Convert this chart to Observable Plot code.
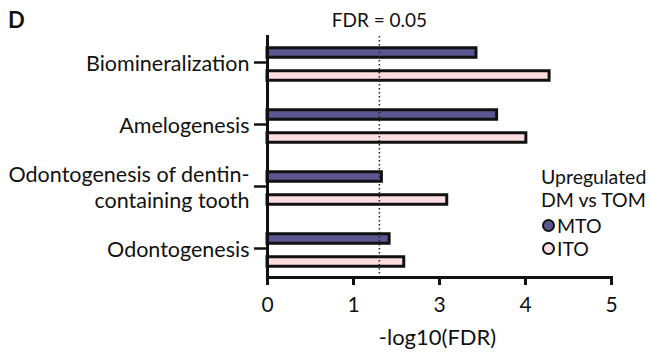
<!DOCTYPE html>
<html><head><meta charset="utf-8">
<script src="https://cdn.jsdelivr.net/npm/d3@7"></script>
<script src="https://cdn.jsdelivr.net/npm/@observablehq/plot@0.6"></script>
<style>
html,body{margin:0;padding:0;background:#fff;}
body{font-family:Lato,sans-serif;color:#111;}
#wrap{position:relative;width:650px;height:354px;}
#panel{position:absolute;left:8px;top:7px;font-weight:bold;font-size:22px;line-height:26px;}
#legend{position:absolute;left:541px;top:165px;font-size:19.5px;line-height:23px;}
#legend .item{display:flex;align-items:center;height:23px;line-height:23px;}
#legend .item.first{margin-top:3px;}
#legend .sw{display:inline-block;width:9px;height:9px;border:2px solid #111;border-radius:50%;margin-left:1px;margin-right:2px;}
</style>
</head><body>
<div id="wrap">
  <div id="chart"></div>
  <div id="panel">D</div>
  <div id="legend"></div>
</div>
<script>
const categories = ["Biomineralization", "Amelogenesis", "Odontogenesis of dentin-containing tooth", "Odontogenesis"];
const categoryLabels = ["Biomineralization", "Amelogenesis", "Odontogenesis of dentin-\ncontaining tooth", "Odontogenesis"];
const seriesNames = ["MTO", "ITO"];
const mtoValues = [2.43, 2.67, 1.33, 1.42];
const itoValues = [3.28, 3.01, 2.09, 1.59];
const seriesColors = ["#5e5690", "#fedde1"];
const xTickValues = [0, 1, 2, 3, 4];
const xTickLabels = ["0", "1", "3", "4", "5"];
const fdrThreshold = 1.301;
const fdrLabel = "FDR = 0.05";
const xLabel = "-log10(FDR)";
const legendTitle = ["Upregulated", "DM vs TOM"];

const mtoRows = categories.map((c, i) => ({category: c, series: seriesNames[0], value: mtoValues[i]}));
const itoRows = categories.map((c, i) => ({category: c, series: seriesNames[1], value: itoValues[i]}));

const chart = Plot.plot({
  width: 650,
  height: 354,
  marginLeft: 267,
  marginRight: 39,
  marginTop: 36,
  marginBottom: 77,
  style: {fontFamily: "Lato, sans-serif", fontSize: "21px", color: "#111", background: "#fff", overflow: "visible"},
  x: {domain: [0, 4]},
  y: {type: "band", domain: categories, range: [31.75, 281.75], padding: 0},
  marks: [
    Plot.barX(mtoRows, {x: "value", y: "category", fill: seriesColors[0], stroke: "#111", strokeWidth: 3, insetTop: 14.75, insetBottom: 37.75}),
    Plot.barX(itoRows, {x: "value", y: "category", fill: seriesColors[1], stroke: "#111", strokeWidth: 3, insetTop: 37.75, insetBottom: 14.75}),
    Plot.ruleX([fdrThreshold], {stroke: "#222", strokeWidth: 1.5, strokeDasharray: "1.5,2.5"}),
    Plot.text([fdrThreshold], {x: d => d, text: () => fdrLabel, frameAnchor: "top", lineAnchor: "middle", dy: -16, fontSize: 19, fill: "#111"}),
    Plot.frame({anchor: "left", stroke: "#111", strokeWidth: 3}),
    Plot.frame({anchor: "bottom", stroke: "#111", strokeWidth: 3}),
    Plot.axisX({ticks: xTickValues, tickFormat: d => xTickLabels[xTickValues.indexOf(d)], tickSize: 8, strokeWidth: 3, tickPadding: 12, fontSize: 21, label: null}),
    Plot.axisY({tickSize: 13, strokeWidth: 2.5, tickPadding: 5, fontSize: 21.5, lineHeight: 1.22, dy: -2, tickFormat: d => categoryLabels[categories.indexOf(d)], label: null}),
    Plot.text([xLabel], {frameAnchor: "bottom", lineAnchor: "middle", dy: 60, dx: -2, fontSize: 22, fill: "#111"})
  ]
});
document.getElementById("chart").appendChild(chart);

const legend = document.getElementById("legend");
legendTitle.forEach(t => { const d = document.createElement("div"); d.textContent = t; legend.appendChild(d); });
seriesNames.forEach((s, i) => {
  const d = document.createElement("div"); d.className = "item" + (i === 0 ? " first" : "");
  const sw = document.createElement("span"); sw.className = "sw"; sw.style.background = seriesColors[i];
  d.appendChild(sw); d.appendChild(document.createTextNode(s));
  legend.appendChild(d);
});
</script>
</body></html>
